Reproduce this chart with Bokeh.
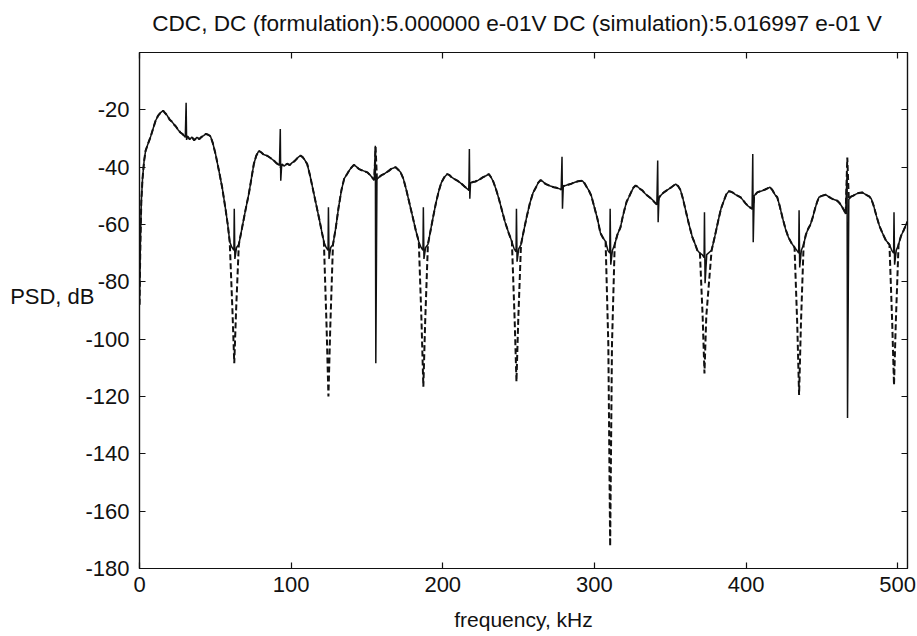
from bokeh.plotting import figure
from bokeh.models import LinearAxis, Range1d, FixedTicker
from bokeh.embed import file_html
from bokeh.resources import INLINE

# ---------------- data ----------------
x_ticks_khz = [0, 100, 200, 300, 400, 500]
y_ticks_db = [-180, -160, -140, -120, -100, -80, -60, -40, -20]
y_label_db = -85      # level at which the horizontal "PSD, dB" label sits
title_khz = 249       # horizontal centre of the title
title_text = "CDC, DC (formulation):5.000000 e-01V DC (simulation):5.016997 e-01 V"

# shared lobe bodies (kHz, dB) -- both curves coincide here
lobe_1 = [(0, -88), (0.6, -66), (1.2, -52), (2, -44), (3, -38), (4, -34.3), (5.5, -32), (7.2, -29.6),
          (9, -26.5), (10.6, -23.8), (12.3, -22), (13.9, -21), (15.6, -20.3), (17, -21.2), (18.3, -22),
          (20, -23.5), (21.5, -24.2), (22.6, -25), (24, -25.8), (25.5, -27), (27, -27.9), (28.5, -28.5),
          (30.2, -29.6), (31.6, -29.3), (33.2, -30.3), (34.6, -29.5), (36, -30.6), (37.9, -29.6),
          (39.5, -30.2), (41, -29.4), (42.3, -29), (43.8, -28.4), (45.3, -28.7), (46.8, -29.2),
          (48.3, -31.5), (50.1, -35.3), (52.3, -41), (54.5, -47), (56.7, -54.5), (58.2, -60), (59.5, -66)]
lobe_2 = [(65.5, -67), (67.7, -61), (69.9, -55), (72.1, -49.3), (73.8, -44), (75.4, -38.9), (77, -36),
          (78.7, -34.3), (80.2, -34.8), (81.8, -35.6), (84.2, -36), (86.4, -36.8), (88.6, -37.7),
          (90.3, -38.6), (92.3, -39.4), (93.8, -39), (95.3, -39.6), (97.4, -38.8), (99, -39.3),
          (100.5, -38.5), (102, -38), (103.5, -37.2), (105, -36.4), (106.2, -36), (107.6, -36.5),
          (109, -37.5), (110.6, -38.9), (112.5, -43), (114.5, -48), (116.5, -53), (118.5, -58),
          (120.2, -62.5), (121.6, -66)]
lobe_3 = [(127.6, -67), (129.5, -61), (131.3, -54), (133.2, -48), (135, -44), (136.9, -42.4), (138.5, -41),
          (140, -40), (141.4, -39.2), (143, -39.8), (144.6, -40.6), (146.2, -41), (147.8, -41.3),
          (150.2, -41.8), (151.8, -42.6), (153.3, -43.5), (154.8, -44.5), (156.6, -44.2), (158, -43.5),
          (159.6, -42.8), (161.2, -42.4), (162.8, -41.8), (164.4, -41.3), (166, -40.6), (167.5, -40.3),
          (168.9, -40), (170.5, -40.8), (172.2, -41.8), (174, -44), (176, -48), (178, -52.5), (180, -57),
          (182.2, -62), (184.2, -66)]
lobe_4 = [(190.2, -67), (192, -62), (193.8, -57), (195.5, -52.5), (197.3, -48.5), (199, -45.5), (201, -43.5),
          (203, -42.4), (204.5, -42.8), (206, -43.6), (207.8, -44.2), (209.6, -44.7), (211.2, -45.3),
          (212.8, -46), (214.5, -46.8), (216.2, -47.6), (217.2, -48), (218.3, -45.5), (219.8, -45.2),
          (221.5, -45), (223.2, -44.6), (224.9, -44.1), (226.6, -43.5), (228.5, -43), (230.4, -42.4),
          (231.8, -43.5), (233.3, -45), (235, -47.5), (237, -51), (239, -55), (241, -59), (243.5, -63),
          (245.6, -66)]
lobe_5 = [(251.6, -67), (253.5, -62), (255.5, -57), (257.5, -52.5), (259.5, -49), (261.5, -47), (263, -45.4),
          (264.5, -44.5), (266, -45), (267.6, -45.8), (269.3, -46.2), (271, -46.6), (273.3, -47),
          (275, -47.2), (276.6, -47.5), (278.1, -47.8), (279.5, -46.6), (281, -46.4), (282.6, -46.1),
          (284.3, -45.9), (286, -45.5), (287.6, -45.2), (289.3, -44.9), (292, -44.7), (293.5, -45.6),
          (295, -47), (296.5, -48.3), (298, -50), (300, -54), (302, -58), (304, -63), (305.5, -64.5),
          (307.4, -66)]
lobe_6 = [(313.4, -67), (315.2, -63.5), (317.2, -61), (318.6, -57.5), (320, -54.5), (321.3, -52),
          (322.7, -50.5), (324.2, -48.8), (325.7, -47.2), (327.2, -46.4), (328.7, -46.9), (330.2, -47.6),
          (331.8, -48.2), (333.4, -49.2), (334.9, -49.9), (336.6, -50.6), (338.2, -51.3), (339.6, -52.2),
          (341.2, -53), (342.6, -50.6), (344.2, -49.6), (345.8, -48.8), (347.5, -48.2), (349.2, -47.6),
          (350.8, -47), (352.3, -46.4), (353.6, -45.9), (355.2, -46.6), (356.8, -48), (358.4, -51),
          (360.2, -55.1), (362.4, -60), (364.6, -64.4), (366.2, -66.5), (367.9, -69), (369.6, -70)]
lobe_7 = [(377.3, -69), (379.5, -64), (381.7, -58.6), (383.5, -54.5), (385.4, -51.7), (387, -49.5),
          (388.7, -48.4), (390.2, -48.6), (391.4, -48.9), (393, -49.6), (394.7, -50), (396.4, -50.5),
          (398, -51.5), (399.7, -52.6), (401.2, -53.5), (403, -54.2), (404, -54.5), (405.4, -50),
          (407.4, -48.8), (409, -48.5), (410.8, -48.2), (412.6, -47.8), (414.2, -47.4), (415.8, -47),
          (417.4, -48), (419, -49.5), (420.6, -50.5), (422.2, -53.5), (424, -57.5), (426, -61.5),
          (428, -64.5), (430, -66.5), (432, -68)]
lobe_8 = [(438, -67), (439.5, -63.5), (441, -61.5), (442.5, -60), (444, -57.5), (445.5, -54.5), (447, -52),
          (448.1, -50.5), (450, -50), (452.5, -49.6), (454.2, -50.2), (456, -50.8), (458, -51.3),
          (460.2, -51.7), (461.8, -52.6), (463.3, -53.8), (464.6, -55), (465.7, -56.3), (467.8, -51.2),
          (469.2, -50.3), (470.8, -49.9), (472.5, -49.4), (474.2, -49), (476.6, -48.8), (478.2, -49.3),
          (479.8, -49.8), (481.2, -50.2), (482.6, -51), (484.2, -53.5), (486, -57), (488, -60.5),
          (490, -63), (492.2, -65.5), (494.6, -67)]
tail = [(500.6, -67), (502.2, -64), (504, -62), (505.2, -60.5), (506.5, -59)]

# spectral nulls
null_khz = [62.5, 124.6, 187.2, 248.6, 310.4, 372.6, 435.0, 497.6]
sim_null_floor_db = [-68, -68, -68, -68.5, -69, -70.5, -69, -69]
sim_null_peak_db = [-54.5, -54, -54, -54.5, -54.5, -55.7, -55, -55.7]
sim_null_trough_db = [-72, -72, -72, -73, -74, -80.5, -75, -74]
form_null_mid_db = [-90, -96, -94, -93, -102, -92, -95, -94]
form_null_depth_db = [-108.4, -120, -116.6, -114.8, -172.2, -112, -119.5, -116]

# tones in the middle of each lobe
tone_khz = [30.9, 93.0, 155.7, 217.7, 278.8, 341.9, 404.6, 466.8]
sim_tone_up_db = [-17.5, -26.7, -32.5, -33.7, -36.4, -37.7, -35.4, -42.0]
sim_tone_down_db = [-30.5, -44.7, -108.4, -51.0, -54.5, -59.2, -66.2, -127.5]
form_tone_db = [-29.5, -40.0, -33.0, -46.0, -47.0, -52.0, -54.0, -36.6]

# ---------------- build the two series ----------------
body = [pt for lobe in (lobe_1, lobe_2, lobe_3, lobe_4, lobe_5, lobe_6, lobe_7, lobe_8, tail) for pt in lobe]

sim_pts = list(body)
for n, fl, pk, tr in zip(null_khz, sim_null_floor_db, sim_null_peak_db, sim_null_trough_db):
    sim_pts += [(n - 1.5, fl), (n - 0.25, fl - 1), (n, pk), (n + 0.4, tr), (n + 1.5, fl)]
for t, up, dn in zip(tone_khz, sim_tone_up_db, sim_tone_down_db):
    sim_pts += [(t - 0.15, up), (t + 0.15, dn)]
sim_pts.sort()

form_pts = list(body)
for n, mid, dep in zip(null_khz, form_null_mid_db, form_null_depth_db):
    form_pts += [(n - 1.2, mid), (n, dep), (n + 1.2, mid)]
for t, v in zip(tone_khz, form_tone_db):
    form_pts += [(t, v)]
form_pts.sort()

sim_f = [p[0] for p in sim_pts]
sim_db = [p[1] for p in sim_pts]
form_f = [p[0] for p in form_pts]
form_db = [p[1] for p in form_pts]

# ---------------- figure ----------------
FONT = "Liberation Sans"
INK = "#111111"
FS = "22px"

p = figure(width=917, height=636, output_backend="svg", toolbar_location=None,
           x_range=Range1d(0, 506.5), y_range=Range1d(-180, 0),
           min_border_left=139, min_border_right=10, min_border_top=52, min_border_bottom=68,
           background_fill_color="white", border_fill_color="white")
p.grid.visible = False
p.outline_line_color = INK
p.outline_line_width = 1.2

p.line(form_f, form_db, line_color=INK, line_width=2.0, line_dash="6 3")
p.line(sim_f, sim_db, line_color=INK, line_width=1.5)


def style_axis(ax, ticks, show_labels, standoff=6):
    ax.ticker = FixedTicker(ticks=ticks)
    ax.major_tick_in = 6
    ax.major_tick_out = 0
    ax.minor_tick_line_color = None
    ax.axis_line_color = INK
    ax.axis_line_width = 1.2
    ax.major_tick_line_color = INK
    ax.major_tick_line_width = 1.2
    ax.major_label_text_font = FONT
    ax.major_label_standoff = standoff
    if show_labels:
        ax.major_label_text_font_size = FS
        ax.major_label_text_color = INK
        ax.major_label_overrides = {float(t): str(t) for t in ticks}
    else:
        ax.major_label_text_font_size = "1px"
        ax.major_label_text_color = None


style_axis(p.xaxis[0], x_ticks_khz, True, standoff=8)
style_axis(p.yaxis[0], y_ticks_db, True, standoff=10)
p.xaxis[0].axis_label = "frequency, kHz"
p.xaxis[0].axis_label_text_font = FONT
p.xaxis[0].axis_label_text_font_size = "21px"
p.xaxis[0].axis_label_text_font_style = "normal"
p.xaxis[0].axis_label_text_color = INK
p.xaxis[0].axis_label_standoff = 13

top_ax = LinearAxis()
style_axis(top_ax, x_ticks_khz, False, standoff=0)
p.add_layout(top_ax, "above")
right_ax = LinearAxis()
style_axis(right_ax, y_ticks_db, False, standoff=0)
p.add_layout(right_ax, "right")


def text_axis(tick, text, standoff):
    return LinearAxis(ticker=FixedTicker(ticks=[tick]),
                      major_label_overrides={float(tick): text},
                      axis_line_color=None, major_tick_line_color=None, minor_tick_line_color=None,
                      major_tick_in=0, major_tick_out=0, major_label_standoff=standoff,
                      major_label_text_font=FONT, major_label_text_font_size=FS,
                      major_label_text_color=INK)


# horizontal y-axis title: an outer left axis with a single labelled tick
p.add_layout(text_axis(y_label_db, "PSD, dB", -12), "left")
# chart title: an outer top axis with a single labelled tick
title_ax = text_axis(title_khz, title_text, 17)
title_ax.major_label_text_font_size = "22.6px"
p.add_layout(title_ax, "above")

open("out.html", "w").write(file_html(p, INLINE))
